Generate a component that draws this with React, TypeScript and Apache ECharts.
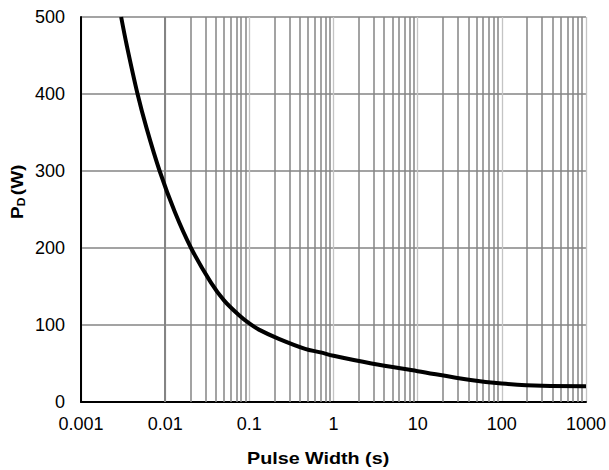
import React, { useEffect, useRef } from "react";
import * as echarts from "echarts";

const pulseWidth = [0.003, 0.0035, 0.0047, 0.006, 0.0086, 0.013, 0.0203, 0.035, 0.05, 0.075, 0.1, 0.13, 0.224, 0.46, 0.7, 1, 2.83, 10, 42.6, 100, 300, 1000];
const power = [500, 463, 400, 356, 300, 247, 200, 155, 132, 113, 102, 94, 82, 69, 64.4, 60, 50, 40, 28.5, 24, 21, 20.5];
const xTickLabels = ["0.001", "0.01", "0.1", "1", "10", "100", "1000"];
const minorGridValues: number[] = [];
for (let e = -3; e < 3; e++) {
  for (let m = 2; m <= 9; m++) {
    minorGridValues.push(Number((m * Math.pow(10, e)).toPrecision(3)));
  }
}

const FONT = "'Liberation Sans', Arial, sans-serif";

export default function App() {
  const ref = useRef<HTMLDivElement>(null);
  useEffect(() => {
    if (!ref.current) return;
    const chart = echarts.init(ref.current, undefined, { renderer: "svg" });
    chart.setOption({
      animation: false,
      backgroundColor: "#ffffff",
      grid: { left: 81, right: 20, top: 17, bottom: 68 },
      xAxis: {
        type: "log",
        logBase: 10,
        min: 0.001,
        max: 1000,
        axisLine: { show: true, lineStyle: { color: "#000", width: 2 } },
        axisTick: { show: false },
        splitLine: { show: true, lineStyle: { color: "#c4c4c4", width: 1.3 } },
        axisLabel: {
          color: "#000",
          fontFamily: FONT,
          fontSize: 18,
          margin: 13,
          formatter: (v: number) => {
            const idx = Math.round(Math.log10(v)) + 3;
            return xTickLabels[idx] ?? "";
          },
        },
      },
      yAxis: {
        type: "value",
        min: 0,
        max: 500,
        interval: 100,
        axisLine: { show: true, lineStyle: { color: "#000", width: 2 } },
        axisTick: { show: false },
        splitLine: { show: true, lineStyle: { color: "#858585", width: 1.5 } },
        axisLabel: { color: "#000", fontFamily: FONT, fontSize: 18, margin: 16 },
      },
      graphic: [
        {
          type: "text",
          x: 247,
          y: 449,
          scaleX: 1.16,
          style: {
            text: "Pulse Width (s)",
            font: `bold 17px ${FONT}`,
            fill: "#000",
          },
        },
        {
          type: "text",
          x: 9,
          y: 219,
          rotation: Math.PI / 2,
          scaleX: 1.12,
          style: {
            text: "{p|P}{d|D}{p|(W)}",
            fill: "#000",
            rich: {
              p: { font: `bold 17px ${FONT}`, fill: "#000" },
              d: { font: `bold 11px ${FONT}`, fill: "#000", verticalAlign: "bottom", padding: [6, 2, 0, 0] },
            },
          },
        },
      ],
      series: [
        {
          type: "line",
          data: [],
          z: 1,
          silent: true,
          markLine: {
            silent: true,
            symbol: ["none", "none"],
            label: { show: false },
            lineStyle: { color: "#858585", width: 1.5, type: "solid" },
            data: minorGridValues.map((v) => ({ xAxis: v })),
          },
        },
        {
          type: "line",
          z: 5,
          data: pulseWidth.map((x, i) => [x, power[i]]),
          smooth: 0.35,
          showSymbol: false,
          lineStyle: { color: "#000", width: 4 },
        },
      ],
    });
    return () => chart.dispose();
  }, []);
  return (
    <div
      ref={ref}
      style={{ position: "fixed", left: 0, top: 0, width: 609, height: 470 }}
    />
  );
}
